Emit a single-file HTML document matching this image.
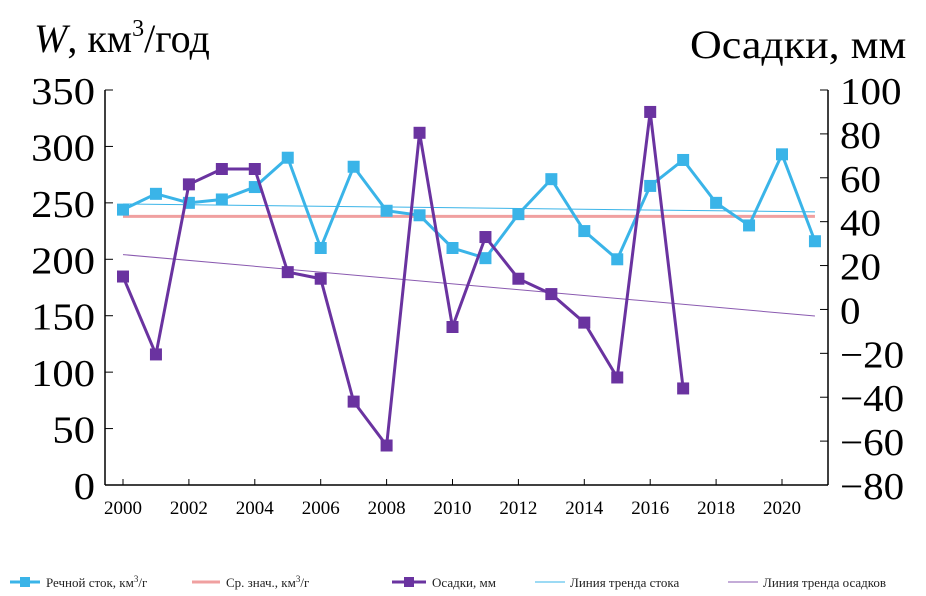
<!DOCTYPE html>
<html><head><meta charset="utf-8">
<style>
body{margin:0;background:#fff;}
svg{display:block;font-family:"Liberation Serif",serif;}
</style></head>
<body>
<svg id="chart" width="926" height="596" viewBox="0 0 926 596">
<g id="axes"></g><g id="marks"></g>
<g font-size="13" fill="#222">
 <g>
  <line x1="10" y1="582" x2="40" y2="582" stroke="#3ab4e8" stroke-width="3"/><rect x="20" y="577" width="10" height="10" fill="#3ab4e8"/>
  <text x="46" y="587">Речной сток, км<tspan font-size="9" dy="-5">3</tspan><tspan dy="5">/г</tspan></text></g>
 <g>
  <line x1="192" y1="582" x2="220" y2="582" stroke="#f0a0a0" stroke-width="3"/>
  <text x="226" y="587">Ср. знач., км<tspan font-size="9" dy="-5">3</tspan><tspan dy="5">/г</tspan></text></g>
 <g>
  <line x1="392" y1="582" x2="426" y2="582" stroke="#6a33a0" stroke-width="3"/><rect x="404" y="577" width="10" height="10" fill="#6a33a0"/>
  <text x="432" y="587">Осадки, мм</text></g>
 <g>
  <line x1="535" y1="582" x2="565" y2="582" stroke="#3ab4e8" stroke-width="1"/>
  <text x="570" y="587">Линия тренда стока</text></g>
 <g>
  <line x1="728" y1="582" x2="758" y2="582" stroke="#8a5ab0" stroke-width="1"/>
  <text x="763" y="587">Линия тренда осадков</text></g>
</g>
</svg>
<script>
const years=[2000,2001,2002,2003,2004,2005,2006,2007,2008,2009,2010,2011,2012,2013,2014,2015,2016,2017,2018,2019,2020,2021];
const runoff=[244,258,250,253,264,290,210,282,243,239,210,201,240,271,225,200,265,288,250,230,293,216];
const precipYears=[2000,2001,2002,2003,2004,2005,2006,2007,2008,2009,2010,2011,2012,2013,2014,2015,2016,2017];
const precip=[15,-20.5,57,64,64,17,14,-42,-62,80.5,-8,33,14,7,-6,-31,90,-36];
const meanRunoff=238;
const runoffTrend=[249,242];
const precipTrend=[25,-3];
const leftTicks=[0,50,100,150,200,250,300,350];
const rightTicks=[-80,-60,-40,-20,0,20,40,60,80,100];
const xTicks=[2000,2002,2004,2006,2008,2010,2012,2014,2016,2018,2020];

const NS="http://www.w3.org/2000/svg";
const X0=105,X1=828,YB=485,YT=90;
const x=y=>123+(y-2000)*32.95;
const yl=v=>YB-(v/350)*(YB-YT);
const yr=v=>YB-((v+80)/180)*(YB-YT);
function mk(tag,attrs,parent,txt){const e=document.createElementNS(NS,tag);for(const k in attrs)e.setAttribute(k,attrs[k]);if(txt!==undefined)e.textContent=txt;parent.appendChild(e);return e;}
function widen(el,f){const w=el.getComputedTextLength();el.setAttribute('textLength',w*f);el.setAttribute('lengthAdjust','spacingAndGlyphs');}
const ax=document.getElementById('axes'),mg=document.getElementById('marks');

let e;
e=mk('line',{x1:X0,y1:YT,x2:X0,y2:YB,stroke:'#000','stroke-width':1.5},ax);


e=mk('line',{x1:X1,y1:YT,x2:X1,y2:YB,stroke:'#000','stroke-width':1.5},ax);


e=mk('line',{x1:X0,y1:YB,x2:X1,y2:YB,stroke:'#000','stroke-width':1.5},ax);


leftTicks.forEach(v=>{
 mk('line',{x1:X0,y1:yl(v),x2:X0+8,y2:yl(v),stroke:'#000'},ax);
 e=mk('text',{x:X0-10,y:yl(v)+14,'text-anchor':'end','font-size':38},ax,v);
 
 
 widen(e,1.12);
});
rightTicks.forEach(v=>{
 mk('line',{x1:X1-8,y1:yr(v),x2:X1,y2:yr(v),stroke:'#000'},ax);
 e=mk('text',{x:X1+12,y:yr(v)+14,'font-size':38},ax,v<0?'\u2212'+(-v):v);
 
 
 widen(e,1.08);
});
xTicks.forEach(v=>{
 mk('line',{x1:x(v),y1:YB,x2:x(v),y2:YB-6,stroke:'#000'},ax);
 e=mk('text',{x:x(v),y:514,'text-anchor':'middle','font-size':19},ax,v);
 
 
});
e=mk('text',{x:34,y:52,'font-size':40},ax);
e.innerHTML='<tspan font-style="italic">W</tspan>, км<tspan font-size="24" dy="-16">3</tspan><tspan dy="16">/год</tspan>';


e=mk('text',{x:690,y:58,'font-size':40},ax,'Осадки, мм');


widen(e,1.1);

e=mk('line',{x1:x(2000),y1:yl(meanRunoff),x2:x(2021),y2:yl(meanRunoff),stroke:'#f0a0a0','stroke-width':3},mg);


e=mk('line',{x1:x(2000),y1:yl(runoffTrend[0]),x2:x(2021),y2:yl(runoffTrend[1]),stroke:'#3ab4e8','stroke-width':1},mg);


e=mk('line',{x1:x(2000),y1:yr(precipTrend[0]),x2:x(2021),y2:yr(precipTrend[1]),stroke:'#8a5ab0','stroke-width':1},mg);



e=mk('polyline',{points:years.map((y,i)=>x(y)+','+yl(runoff[i])).join(' '),fill:'none',stroke:'#3ab4e8','stroke-width':3},mg);


years.forEach((y,i)=>{
 e=mk('rect',{x:x(y)-6,y:yl(runoff[i])-6,width:12,height:12,fill:'#3ab4e8'},mg);
 
 
});
e=mk('polyline',{points:precipYears.map((y,i)=>x(y)+','+yr(precip[i])).join(' '),fill:'none',stroke:'#6a33a0','stroke-width':3},mg);


precipYears.forEach((y,i)=>{
 e=mk('rect',{x:x(y)-6,y:yr(precip[i])-6,width:12,height:12,fill:'#6a33a0'},mg);
 
 
});
</script>
</body></html>
